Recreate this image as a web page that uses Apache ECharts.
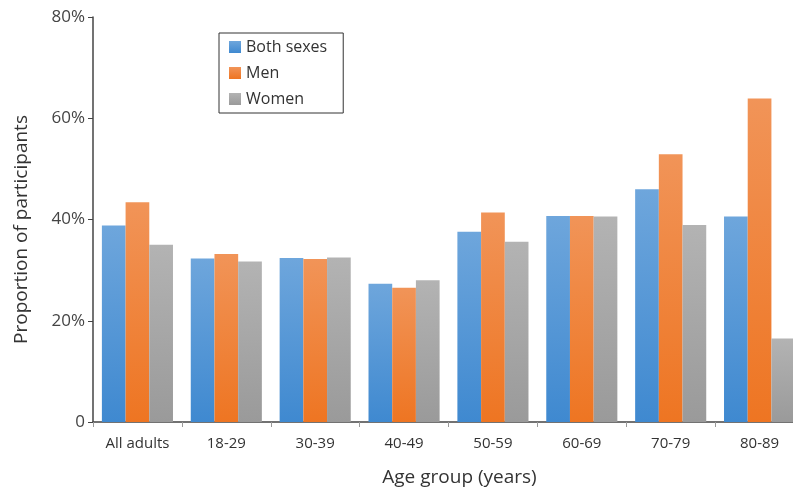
<!DOCTYPE html>
<html><head><meta charset="utf-8">
<script src="https://cdn.jsdelivr.net/npm/echarts@6/dist/echarts.min.js"></script>
<style>html,body{margin:0;padding:0;background:#fff}#c{width:793px;height:493px}</style>
</head><body><div id="c"></div>
<script>
const categories = ['All adults','18-29','30-39','40-49','50-59','60-69','70-79','80-89'];
const bothSexes = [38.8, 32.3, 32.4, 27.3, 37.6, 40.7, 46.0, 40.6];
const men       = [43.4, 33.2, 32.2, 26.5, 41.4, 40.7, 52.9, 63.9];
const women     = [35.0, 31.7, 32.5, 28.0, 35.6, 40.6, 38.9, 16.5];
const yTicks = [0, 20, 40, 60, 80];

const FONT = '"Open Sans", sans-serif';
function grad(top, bottom){
  return new echarts.graphic.LinearGradient(0,0,0,1,[{offset:0,color:top},{offset:1,color:bottom}]);
}
const chart = echarts.init(document.getElementById('c'));
chart.setOption({
  animation:false,
  textStyle:{fontFamily:FONT},
  grid:{left:93, top:17, right:-11, bottom:71, containLabel:false, outerBoundsMode:'none'},
  legend:{
    left:219, top:33, orient:'vertical', itemWidth:12, itemHeight:12, itemGap:10,
    padding:[6,16,6,10], borderColor:'#333', borderWidth:1,
    textStyle:{fontSize:16, color:'#333', fontFamily:FONT},
    icon:'rect',
    data:['Both sexes','Men','Women']
  },
  xAxis:{
    type:'category', data:categories,
    axisLine:{lineStyle:{color:'#444', width:1.5}},
    axisTick:{show:true, length:5, lineStyle:{color:'#999'}},
    axisLabel:{fontSize:15, color:'#333', margin:14, fontFamily:FONT},
    name:'Age group (years)', nameLocation:'middle', nameGap:46,
    nameTextStyle:{fontSize:19, color:'#333', padding:[0,0,0,22], fontFamily:FONT}
  },
  yAxis:{
    type:'value', min:0, max:80, interval:20,
    axisLine:{show:true, lineStyle:{color:'#444', width:1.5}},
    axisTick:{show:true, length:5, lineStyle:{color:'#444'}},
    splitLine:{show:false},
    axisLabel:{fontSize:17, color:'#444', margin:8, fontFamily:FONT,
      formatter:v=> yTicks.includes(v) ? (v===0?'0':v+'%') : ''},
    name:'Proportion of participants', nameLocation:'middle', nameGap:62,
    nameTextStyle:{fontSize:19, color:'#333', padding:[0,20,0,0], fontFamily:FONT}
  },
  series:[
    {name:'Both sexes', type:'bar', data:bothSexes, barGap:'0%', barCategoryGap:'20%',
     itemStyle:{color:grad('#6ea6dc','#3f89d0')}},
    {name:'Men', type:'bar', data:men,
     itemStyle:{color:grad('#f19458','#ee7522')}},
    {name:'Women', type:'bar', data:women,
     itemStyle:{color:grad('#b3b3b3','#9a9a9a')}}
  ]
});
</script></body></html>
